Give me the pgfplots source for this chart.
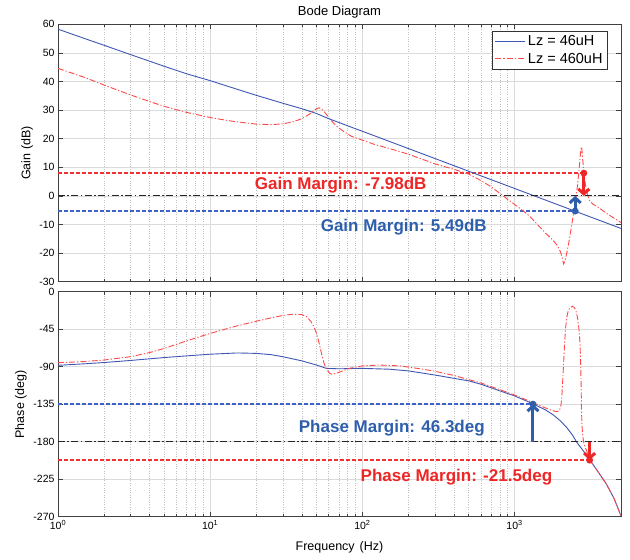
\documentclass[border=0pt]{standalone}
\usepackage{fontspec}
\setmainfont{Liberation Sans}
\usepackage{pgfplots}
\pgfplotsset{compat=1.18}
\usetikzlibrary{arrows.meta}

\definecolor{cblue}{RGB}{62,86,180}
\definecolor{cred}{RGB}{255,72,72}
\definecolor{ablue}{RGB}{46,95,172}
\definecolor{ared}{RGB}{238,38,38}
\definecolor{dblue}{RGB}{60,100,200}
\definecolor{dred}{RGB}{242,50,50}

\tikzset{
  annot/.style={font=\bfseries\fontsize{17}{19}\selectfont},
}
\pgfplotsset{
  every axis/.append style={
    scale only axis, width=563pt,
    xmin=1, xmax=5000,
    xtick={1,10,100,1000},
    grid=both,
    major grid style={gray!28, line width=0.7pt},
    minor grid style={gray!50, dotted, line width=0.6pt},
    axis line style={black!75, line width=0.8pt},
    tick style={black!75, line width=0.6pt},
    major tick length=5pt, minor tick length=3pt,
    tick label style={font=\fontsize{10.5}{12}\selectfont},
    /pgf/number format/assume math mode=true,
    label style={font=\fontsize{12.5}{14}\selectfont},
    clip=false,
  },
  legend image code/.code={\draw[#1] (0pt,0pt) -- (30pt,0pt);},
}

\begin{document}
\begin{tikzpicture}
\useasboundingbox (0,0) rectangle (630pt,-560pt);

% gain
\begin{axis}[xmode=log,
  at={(58pt,-281.7pt)}, anchor=south west, height=257.4pt,
  ymin=-30, ymax=60, ytick={-30,-20,...,60},
  xticklabels={},
  ylabel={Gain\hspace{0.3em}(dB)},
  ylabel style={at={(axis description cs:-0.055,0.5)}, anchor=center},
  legend style={at={(axis description cs:0.9757,0.974)}, anchor=north east,
    draw=black!80, line width=0.6pt, font=\fontsize{14.5}{17}\selectfont,
    inner sep=2.5pt, row sep=1.5pt},
  legend cell align=left,
]
\addplot[dblue, line width=1.3pt, dash pattern=on 4pt off 2pt, forget plot] coordinates {(1,-5.3) (2500,-5.3)};
\addplot[dred, line width=1.3pt, dash pattern=on 4pt off 2pt, forget plot] coordinates {(1,7.98) (2850,7.98)};
\addplot[cblue, line width=0.9pt] coordinates {
(1,58.3) (1.5,55.0) (2,52.7) (3,49.4) (5,45.3) (7,42.7) (10,40.3) (15,37.3)
(20,35.2) (30,32.4) (40,30.5) (50,28.8) (60,27.0) (70,25.7) (80,24.5)
(100,22.6) (150,19.08) (200,16.58) (300,13.06) (500,8.62) (700,5.70)
(1000,2.6) (1500,-0.92) (2000,-3.42) (2500,-5.36) (3000,-6.94) (4000,-9.44) (5000,-11.38)};
\addplot[cred, line width=0.9pt, dash pattern=on 6pt off 2pt on 1.2pt off 2pt] coordinates {
(1,44.6) (1.5,41.4) (2,38.8) (3,35.3) (4,33.0) (5,31.3) (7,29.2) (10,27.4)
(14,26.1) (20,25.1) (25,24.9) (30,25.2) (35,25.9) (40,27.0) (45,28.6) (50,30.5)
(52,30.8) (55,30.0) (58,28.5) (62,26.5) (66,25.0) (70,23.8) (75,22.6) (85,20.8)
(100,19.5) (120,18.0) (150,16.6) (200,14.6) (300,11.2) (400,9.3) (500,7.6)
(600,5.4) (700,3.2) (800,0.9) (900,-1.2) (1000,-3.0) (1100,-4.6) (1250,-7.0)
(1450,-10.7) (1600,-13.0) (1800,-15.7) (1900,-17.2) (2000,-19.5) (2050,-21.5)
(2100,-23.8) (2150,-22.5) (2200,-20.0) (2250,-17.5) (2300,-14.5) (2350,-11.5)
(2400,-8.5) (2450,-5.5) (2500,-2.5) (2550,0.8) (2600,4.5) (2650,9.0) (2700,14.0)
(2730,16.5) (2750,17.2) (2770,16.0) (2800,13.0) (2850,8.5) (2900,5.0) (2950,2.5)
(3000,0.8) (3100,-1.5) (3250,-2.8) (3500,-3.8) (4000,-6.0) (4500,-7.8) (5000,-9.3)};
\legend{Lz = 46uH, Lz = 460uH}

\addplot[black!85, line width=0.9pt, dash pattern=on 7pt off 2.5pt on 1.5pt off 2.5pt, forget plot] coordinates {(1,0) (5000,0)};
\addplot[ablue, line width=3pt, -{Straight Barb[length=5pt,width=11pt]}, forget plot] coordinates {(2500,-5.3) (2500,0)};
\addplot[ablue, only marks, mark=*, mark size=3.2pt, forget plot] coordinates {(2500,-5.3)};
\addplot[ared, line width=3pt, -{Straight Barb[length=5pt,width=11pt]}, forget plot] coordinates {(2850,7.98) (2850,0)};
\addplot[ared, only marks, mark=*, mark size=3.2pt, forget plot] coordinates {(2850,7.98)};
\node[annot, text=ared] at (axis cs:72,3.8) {Gain Margin: -7.98dB};
\node[annot, text=ablue] at (axis cs:187,-10.8) {Gain Margin: 5.49dB};
\node[font=\fontsize{13}{15}\selectfont] at (rel axis cs:0.5,1.049) {Bode Diagram};
\end{axis}

% phase
\begin{axis}[xmode=log,
  at={(58pt,-516.7pt)}, anchor=south west, height=225pt,
  ymin=-270, ymax=0, ytick={-270,-225,...,0},
  xticklabels={10\textsuperscript{0},10\textsuperscript{1},10\textsuperscript{2},10\textsuperscript{3}},
  xlabel={Frequency\hspace{0.4em}(Hz)},
  xlabel style={at={(axis description cs:0.5,-0.135)}, anchor=center},
  ylabel={Phase\hspace{0.3em}(deg)},
  ylabel style={at={(axis description cs:-0.066,0.5)}, anchor=center},
]
\addplot[dred, line width=1.3pt, dash pattern=on 4pt off 2pt, forget plot] coordinates {(1,-202.1) (3110,-202.1)};
\addplot[dblue, line width=1.3pt, dash pattern=on 4pt off 2pt, forget plot] coordinates {(1,-134.9) (1320,-134.9)};
\addplot[cblue, line width=0.9pt] coordinates {
(1,-88.3) (1.5,-86.5) (2,-85) (3,-82.5) (5,-79) (7,-77) (10,-75) (15,-73.5)
(20,-74) (25,-75.5) (30,-78) (40,-83) (50,-88) (58,-92) (70,-92.5) (100,-92)
(150,-93) (200,-95) (300,-100) (400,-104) (500,-107) (600,-111) (800,-119)
(1000,-125) (1320,-134.5) (1600,-142) (1800,-148) (2000,-155) (2200,-163)
(2400,-172) (2546,-180) (2800,-190) (3110,-201.5) (3500,-215) (4000,-230.5)
(4500,-248) (5000,-269)};
\addplot[cred, line width=0.9pt, dash pattern=on 6pt off 2pt on 1.2pt off 2pt] coordinates {
(1,-85.2) (1.5,-83.8) (2,-82) (3,-78) (4,-73) (5,-68) (7,-59) (10,-50) (15,-41)
(20,-35.5) (25,-31.5) (30,-28.5) (35,-27) (40,-27.5) (43,-30) (46,-36) (48,-42)
(50,-50) (52,-62) (54,-75) (56,-86) (58,-93) (61,-98) (63,-99) (67,-98) (72,-96)
(82,-92) (100,-89) (130,-88) (176,-89) (250,-93) (300,-95.5) (400,-100.5)
(500,-105.5) (600,-109.5) (800,-117.5) (1000,-124) (1320,-133) (1500,-137.5)
(1700,-141.5) (1880,-144) (1960,-143) (2010,-138) (2040,-128) (2060,-114)
(2080,-100) (2100,-85) (2130,-62) (2160,-45) (2200,-31) (2250,-23) (2300,-19.5)
(2400,-17.5) (2480,-19.5) (2540,-24) (2600,-33) (2650,-46) (2690,-62) (2715,-85)
(2735,-110) (2750,-140) (2770,-160) (2800,-172) (2838,-180) (2900,-186)
(2960,-190) (3040,-196) (3110,-201.5) (3500,-215) (4000,-230.5) (4500,-248) (5000,-269)};

\addplot[black!85, line width=0.9pt, dash pattern=on 7pt off 2.5pt on 1.5pt off 2.5pt, forget plot] coordinates {(1,-180) (5000,-180)};
\addplot[ablue, line width=3pt, -{Straight Barb[length=5pt,width=11pt]}, forget plot] coordinates {(1320,-180) (1320,-134.9)};
\addplot[ablue, only marks, mark=*, mark size=3.2pt, forget plot] coordinates {(1320,-134.9)};
\addplot[ared, line width=3pt, -{Straight Barb[length=5pt,width=11pt]}, forget plot] coordinates {(3110,-180) (3110,-202.1)};
\addplot[ared, only marks, mark=*, mark size=3.2pt, forget plot] coordinates {(3110,-202.1)};
\node[annot, text=ablue] at (axis cs:156,-164) {Phase Margin: 46.3deg};
\node[annot, text=ared] at (axis cs:415,-222) {Phase Margin: -21.5deg};
\end{axis}
\end{tikzpicture}
\end{document}
